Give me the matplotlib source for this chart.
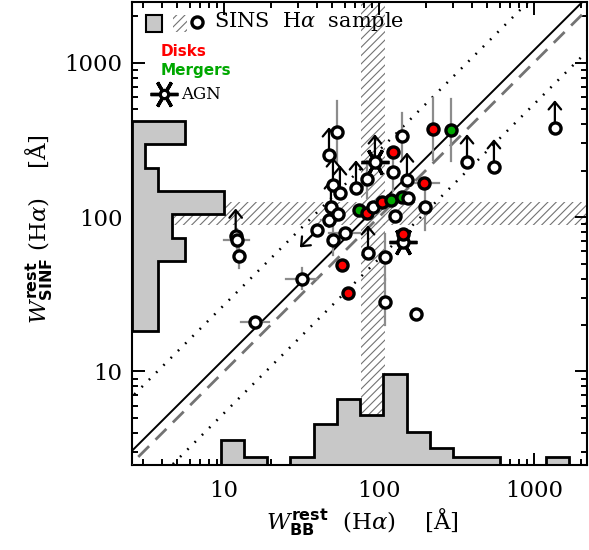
import numpy as np
import matplotlib
matplotlib.use("Agg")
import matplotlib.pyplot as plt
import matplotlib.transforms as mtransforms
from matplotlib.patches import Rectangle
from matplotlib.ticker import LogLocator, FuncFormatter, NullFormatter

plt.rcParams['font.family'] = 'DejaVu Serif'
plt.rcParams['mathtext.fontset'] = 'custom'
plt.rcParams['mathtext.rm'] = 'DejaVu Serif'
plt.rcParams['mathtext.it'] = 'DejaVu Serif:italic'
plt.rcParams['mathtext.bf'] = 'DejaVu Serif:bold'
plt.rcParams['mathtext.sf'] = 'DejaVu Sans:bold'
plt.rcParams['hatch.linewidth'] = 0.8

# rest-frame Halpha equivalent widths [A]: broad-band estimate vs SINFONI
w_bb = [11.9, 12.1, 12.5, 15.8, 31.8, 39.8, 47.6, 50.5, 60.3, 57.7,
        63.1, 49.0, 54.3, 50.5, 56.0, 47.6, 53.6, 71.1, 83.7, 74.3,
        83.7, 91.5, 104.5, 119.5, 140.6, 153.8, 126.8, 198, 195, 123,
        151.6, 94.2, 123, 140.6, 223, 291.5, 370, 552, 1365, 85,
        109.3, 142.8, 142.8, 109.3, 173.4]
w_sinf = [75, 71, 56, 21, 40, 82, 96, 71, 79, 49,
          32, 116, 104, 161, 143, 252, 355, 154, 176, 111,
          106, 116, 125, 129, 135, 133, 101, 116, 166, 195,
          173, 227, 264, 334, 371, 366, 227, 211, 377, 58.5,
          55, 69, 77.6, 28.2, 23.5]
# n = normal, d = disk, m = merger, a = AGN
kind = ['n', 'n', 'n', 'n', 'n', 'n', 'n', 'n', 'n', 'd',
        'd', 'n', 'n', 'n', 'n', 'n', 'n', 'n', 'n', 'm',
        'd', 'n', 'd', 'm', 'm', 'n', 'n', 'n', 'd', 'n',
        'n', 'a', 'd', 'n', 'd', 'm', 'n', 'n', 'n', 'n',
        'n', 'a', 'd', 'n', 'n']
# up = lower limit on SINF, dl = upper limit on both
limit = ['up', '', '', '', '', 'dl', '', '', '', '',
         '', 'up', '', 'up', 'up', 'up', '', 'up', '', '',
         '', '', '', '', '', '', '', '', '', '',
         'up', 'up', '', '', '', '', 'up', 'up', 'up', 'up',
         '', '', '', '', '']
# errors in dex
xerr_dex = [0, 0.08, 0, 0.09, 0.1, 0, 0.05, 0, 0.1, 0,
            0, 0, 0, 0, 0, 0, 0, 0, 0, 0,
            0, 0, 0, 0, 0, 0, 0, 0, 0.1, 0,
            0, 0, 0, 0, 0, 0, 0, 0, 0, 0,
            0, 0, 0, 0, 0]
yerr_dex = [0, 0.07, 0.08, 0.03, 0.07, 0, 0.05, 0.1, 0, 0,
            0, 0, 0, 0, 0, 0, 0.2, 0, 0.12, 0,
            0, 0, 0, 0, 0, 0, 0, 0.15, 0, 0.12,
            0, 0, 0, 0.15, 0.2, 0.2, 0, 0, 0, 0,
            0.15, 0, 0, 0.15, 0]

# histograms (log10 bin edges)
bb_logedge0, bb_binw = 0.979, 0.15
bb_counts = [3, 1, 0, 1, 5, 8, 6, 11, 4, 2, 1, 1, 0, 0, 1]
sinf_logedge0, sinf_binw = 1.264, 0.1508
sinf_counts = [2, 2, 2, 4, 3, 7, 2, 1, 4]

# median bands
bb_band = (77, 109)
sinf_band = (89, 126)

fit_offset = 0.08     # dex
fit_scatter = 0.35    # dex

fig = plt.figure(figsize=(5.89, 5.5), dpi=100)
ax = fig.add_axes([0.2241, 0.1545, 0.7725, 0.842])
ax.set_xscale('log')
ax.set_yscale('log')
ax.set_xlim(2.55, 2200)
ax.set_ylim(2.48, 2470)

ax.axvspan(*bb_band, fill=False, hatch='////', edgecolor='0.45', lw=0, zorder=1)
ax.axhspan(*sinf_band, fill=False, hatch='////', edgecolor='0.45', lw=0, zorder=1)


def step_outline(edge0, width, counts, scale):
    edges = 10 ** (edge0 + width * np.arange(len(counts) + 1))
    pos, hgt = [edges[0]], [0]
    for i, c in enumerate(counts):
        pos += [edges[i], edges[i + 1]]
        hgt += [c * scale, c * scale]
    pos.append(edges[-1])
    hgt.append(0)
    return pos, hgt


bx, bh = step_outline(bb_logedge0, bb_binw, bb_counts, 0.0179)
ax.fill(bx, bh, transform=mtransforms.blended_transform_factory(ax.transData, ax.transAxes),
        facecolor='#c8c8c8', edgecolor='k', lw=2, zorder=2)
sy, sw = step_outline(sinf_logedge0, sinf_binw, sinf_counts, 0.029)
ax.fill(sw, sy, transform=mtransforms.blended_transform_factory(ax.transAxes, ax.transData),
        facecolor='#c8c8c8', edgecolor='k', lw=2, zorder=2)

xx = np.array([1.0, 5000.0])
ax.plot(xx, xx, color='0.45', lw=2, ls=(0, (5.5, 3.3)), zorder=3)
ax.plot(xx, xx * 10 ** fit_offset, color='k', lw=1.4, zorder=3)
ax.plot(xx, xx * 10 ** (fit_offset + fit_scatter), color='k', lw=1.8, ls=(0, (0.7, 3.4)), zorder=3)
ax.plot(xx, xx * 10 ** (fit_offset - fit_scatter), color='k', lw=1.8, ls=(0, (0.7, 3.4)), zorder=3)

x = np.array(w_bb)
y = np.array(w_sinf)
xe = np.array(xerr_dex)
ye = np.array(yerr_dex)

# error bars
for i in range(len(x)):
    if xe[i] > 0:
        ax.plot([x[i] / 10 ** xe[i], x[i] * 10 ** xe[i]], [y[i], y[i]], color='0.55', lw=1.6, zorder=4)
    if ye[i] > 0:
        ax.plot([x[i], x[i]], [y[i] / 10 ** ye[i], y[i] * 10 ** ye[i]], color='0.55', lw=1.6, zorder=4)

# limits
arrowkw = dict(arrowstyle='->, head_length=0.3, head_width=0.25', lw=1.6, color='k',
               mutation_scale=18, shrinkA=0, shrinkB=0)
for i in range(len(x)):
    if limit[i] == 'up':
        ax.annotate('', xy=(x[i], y[i] * 10 ** 0.18), xytext=(x[i], y[i]),
                    arrowprops=arrowkw, zorder=5)
    elif limit[i] == 'dl':
        ax.annotate('', xy=(x[i] / 10 ** 0.11, y[i] / 10 ** 0.11), xytext=(x[i], y[i]),
                    arrowprops=arrowkw, zorder=5)

face = {'n': 'white', 'a': 'white', 'd': '#ff0000', 'm': '#00a800'}
for i in range(len(x)):
    if kind[i] == 'a':
        ax.plot(x[i], y[i], marker=(6, 2, 90), ms=20, mew=2.4, color='k', zorder=6)
    ax.plot(x[i], y[i], 'o', ms=8, mew=2.4, mfc=face[kind[i]], mec='k', zorder=7)

# legend block
ax.add_patch(Rectangle((0.031, 0.935), 0.035, 0.037, transform=ax.transAxes,
                       facecolor='#c8c8c8', edgecolor='k', lw=1.5, zorder=8))
ax.add_patch(Rectangle((0.090, 0.935), 0.031, 0.037, transform=ax.transAxes,
                       fill=False, hatch='////', edgecolor='0.45', lw=0, zorder=8))
ax.plot(0.143, 0.957, 'o', ms=8, mew=2.4, mfc='white', mec='k', transform=ax.transAxes, zorder=8)
ax.text(0.180, 0.957, r'SINS  H$\alpha$  sample', transform=ax.transAxes, fontsize=15,
        va='center', ha='left', zorder=8)
ax.text(0.062, 0.892, 'Disks', color='#ff0000', fontsize=11, fontweight='bold',
        family='DejaVu Sans', transform=ax.transAxes, va='center', zorder=8)
ax.text(0.062, 0.851, 'Mergers', color='#00a800', fontsize=11, fontweight='bold',
        family='DejaVu Sans', transform=ax.transAxes, va='center', zorder=8)
ax.plot(0.070, 0.801, marker=(6, 2, 90), ms=20, mew=2.4, color='k', transform=ax.transAxes, zorder=8)
ax.plot(0.070, 0.801, 'o', ms=6, mew=2.3, mfc='white', mec='k', transform=ax.transAxes, zorder=9)
ax.text(0.108, 0.801, 'AGN', fontsize=12, transform=ax.transAxes, va='center', zorder=8)

# axes styling
for sp in ax.spines.values():
    sp.set_linewidth(1.5)
for axis in (ax.xaxis, ax.yaxis):
    axis.set_major_locator(LogLocator(base=10))
    axis.set_minor_locator(LogLocator(base=10, subs=np.arange(2, 10)))
    axis.set_major_formatter(FuncFormatter(lambda v, p: '%d' % round(v)))
    axis.set_minor_formatter(NullFormatter())
ax.tick_params(which='both', direction='in', top=True, right=True, width=1.4, labelsize=16.5)
ax.tick_params(which='major', length=9)
ax.tick_params(which='minor', length=4.5)
ax.tick_params(axis='x', pad=11)
ax.tick_params(axis='y', pad=7)

fig.text(0.616, 0.052, r'$W^{\mathsf{rest}}_{\mathsf{BB}}$  (H$\alpha$)    [Å]',
         fontsize=16.5, ha='center', va='center')
fig.text(0.066, 0.584, r'$W^{\mathsf{rest}}_{\mathsf{SINF}}$ (H$\alpha$)    [Å]',
         fontsize=16.5, ha='center', va='center', rotation=90)

fig.savefig('out.png', dpi=100)
